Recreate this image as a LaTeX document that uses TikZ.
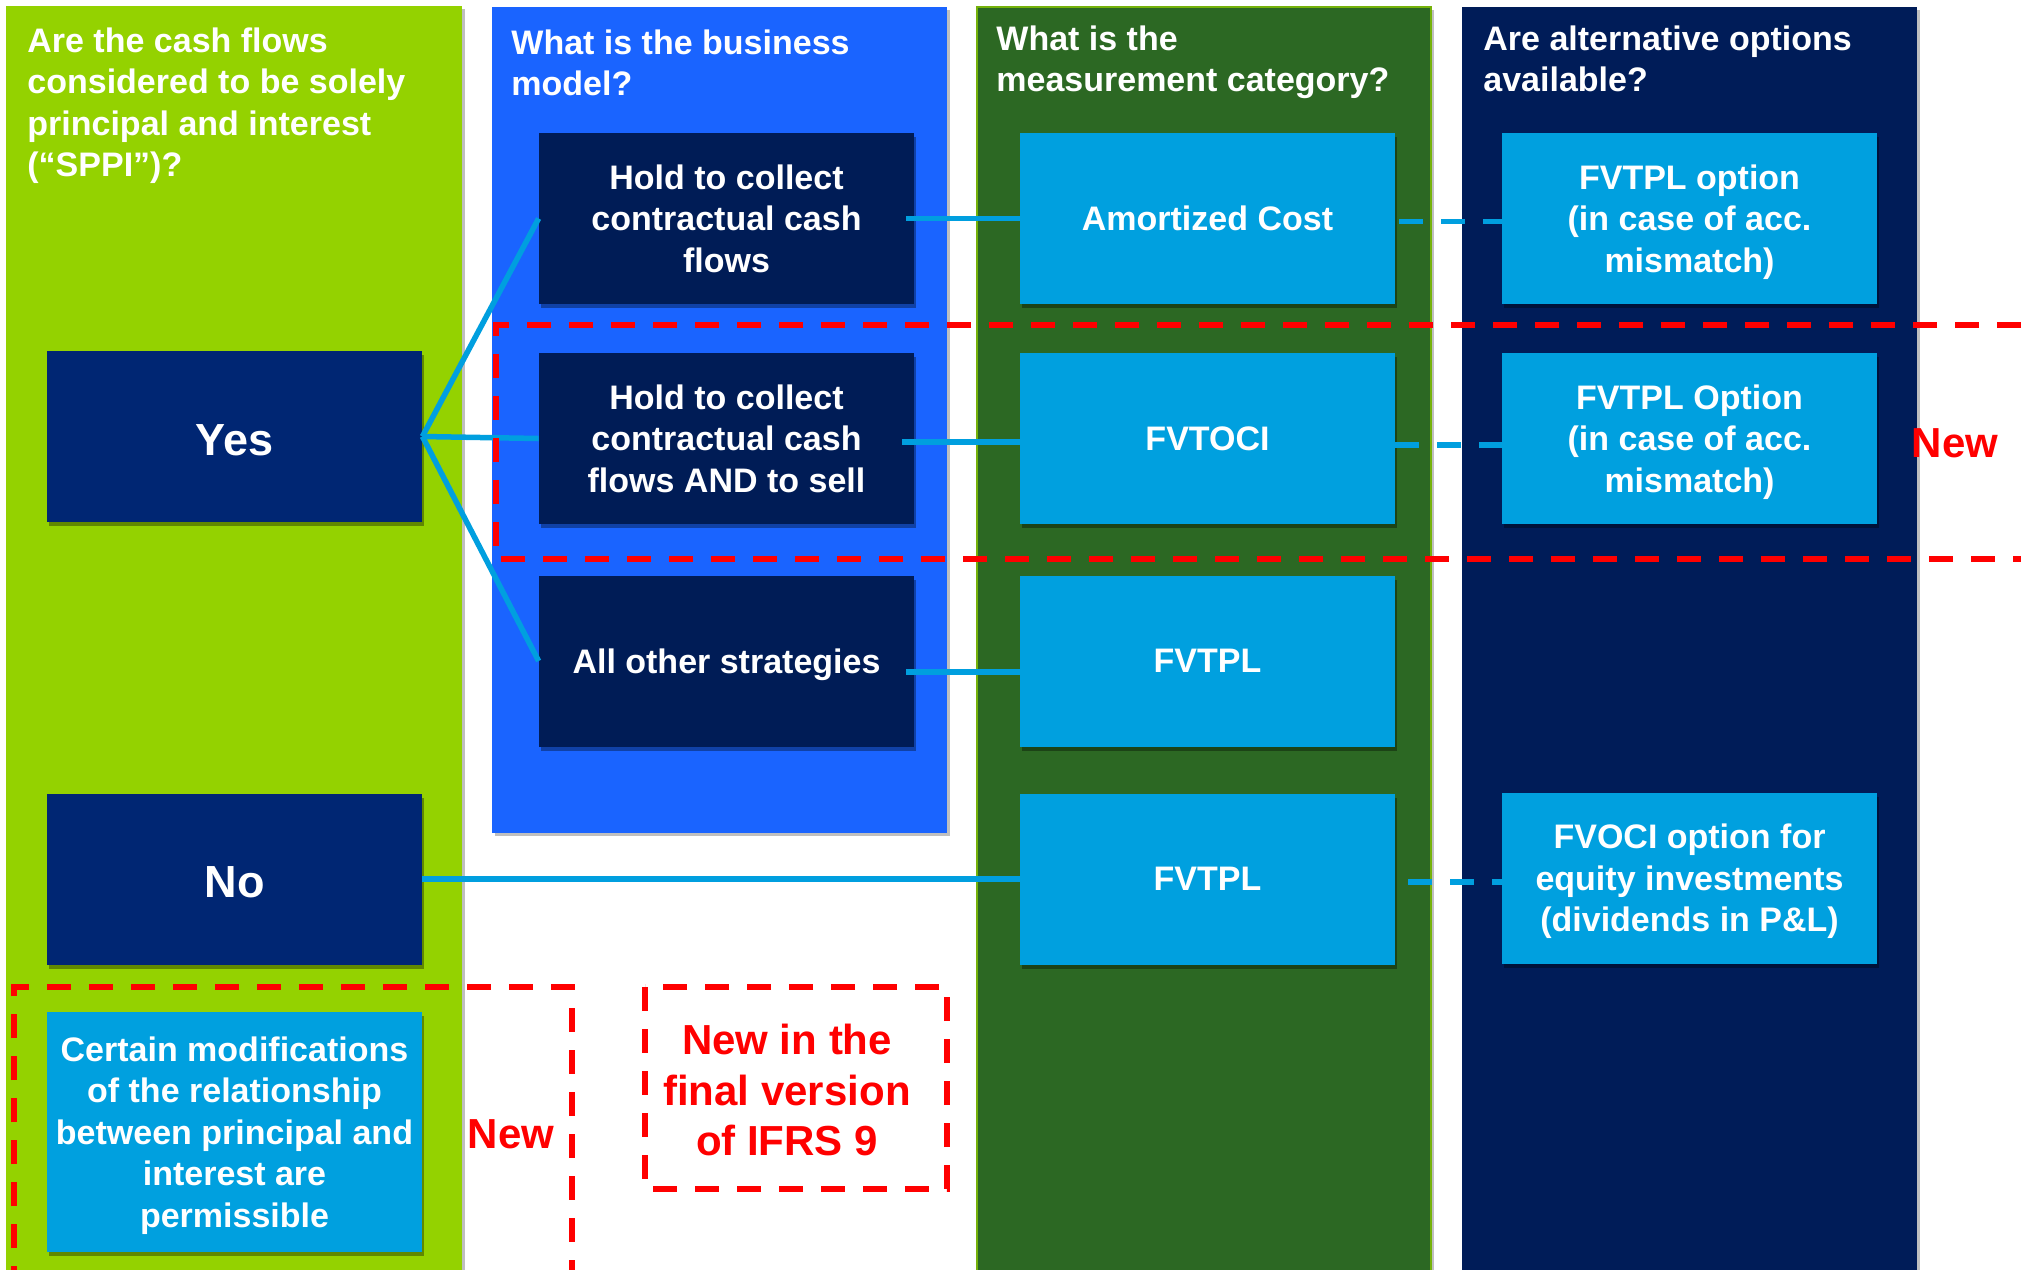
\documentclass[tikz,border=0pt]{standalone}
\usepackage{fontspec}
\setmainfont{Liberation Sans}
\usetikzlibrary{shadows}
\definecolor{lgreen}{HTML}{94D200}
\definecolor{bblue}{HTML}{1A64FF}
\definecolor{dgreen}{HTML}{2C6823}
\definecolor{navycol}{HTML}{001C58}
\definecolor{navybox}{HTML}{001C56}
\definecolor{yesbox}{HTML}{002673}
\definecolor{lblue}{HTML}{00A0DF}
\definecolor{lineblue}{HTML}{009FDF}
\begin{document}
\begin{tikzpicture}[x=0.5pt,y=-0.5pt,
  shad/.style={drop shadow={shadow xshift=1pt,shadow yshift=-2pt,opacity=0.35,fill=black}},
  colshad/.style={drop shadow={shadow xshift=1.5pt,shadow yshift=-1.5pt,opacity=0.25,fill=black}},
  box/.style={shad, minimum width=187.5pt, minimum height=85.5pt, inner sep=0pt, align=center,
    text=white, font=\bfseries\fontsize{17}{20.8}\selectfont, text depth=0pt},
  darkbox/.style={box, fill=navybox},
  yesnobox/.style={box, fill=yesbox, font=\bfseries\fontsize{22.5}{26}\selectfont,
    text height=18.5pt},
  lightbox/.style={box, fill=lblue},
  coltitle/.style={anchor=north west, inner sep=0pt, align=left, text=white,
    font=\bfseries\fontsize{17}{20.75}\selectfont},
  conn/.style={draw=lineblue, line width=2.75pt},
  dashconn/.style={draw=lineblue, line width=2.75pt, dash pattern=on 12pt off 9pt},
  reddash/.style={draw=red, line width=2.75pt, dash pattern=on 12pt off 9pt},
  redtext/.style={text=red, inner sep=0pt, align=center, font=\bfseries\fontsize{21}{25.3}\selectfont}]
\useasboundingbox (0,0) rectangle (2021,1269);
\fill[white] (0,0) rectangle (2021,1269);
% columns
\path[fill=lgreen, colshad] (6,6) rectangle (462,1290);
\path[fill=bblue, colshad] (492,7) rectangle (947,833);
\path[fill=dgreen, draw=lgreen!70!dgreen, line width=0.75pt, colshad] (977,7) rectangle (1431,1290);
\path[fill=navycol, colshad] (1462,7) rectangle (1917,1290);
% column titles
\node[coltitle] (t1) at (27,27) {Are the cash flows\\considered to be solely\\principal and interest\\(“SPPI”)?};
\node[coltitle] (t2) at (511,29) {What is the business\\model?};
\node[coltitle] (t3) at (996,25) {What is the\\measurement category?};
\node[coltitle] (t4) at (1483,25) {Are alternative options\\available?};
% boxes
\node[yesnobox] (yes) at (234.5,436.5) {Yes};
\node[yesnobox] (no) at (234.5,879) {No};
\node[lightbox, minimum height=120pt] (cert) at (234.5,1132) {Certain modifications\\of the relationship\\between principal and\\interest are\\permissible};
\node[darkbox] (b1) at (726.5,218.5) {Hold to collect\\contractual cash\\flows};
\node[darkbox] (b2) at (726.5,438.5) {Hold to collect\\contractual cash\\flows AND to sell};
\node[darkbox] (b3) at (726.5,661) {All other strategies};
\node[lightbox] (m1) at (1207.5,218.5) {Amortized Cost};
\node[lightbox] (m2) at (1207.5,438.5) {FVTOCI};
\node[lightbox] (m3) at (1207.5,661) {FVTPL};
\node[lightbox] (m4) at (1207.5,879) {FVTPL};
\node[lightbox] (o1) at (1689.5,218.5) {FVTPL option\\(in case of acc.\\mismatch)};
\node[lightbox] (o2) at (1689.5,438.5) {FVTPL Option\\(in case of acc.\\mismatch)};
\node[lightbox] (o4) at (1689.5,878) {FVOCI option for\\equity investments\\(dividends in P\&L)};
% connectors
\draw[conn] (yes.east) -- (b1.west);
\draw[conn] (yes.east) -- (b2.west);
\draw[conn] (yes.east) -- (b3.west);
\draw[conn] ([xshift=-4pt]b1.east) -- (m1.west);
\draw[conn] ([xshift=-6pt,yshift=-1.75pt]b2.east) -- ([yshift=-1.75pt]m2.west);
\draw[conn] ([xshift=-4pt,yshift=-5.5pt]b3.east) -- ([yshift=-5.5pt]m3.west);
\draw[conn] (no.east) -- (m4.west);
\draw[dashconn, dash phase=-2pt] ([yshift=-1.5pt]m1.east) -- ([yshift=-1.5pt]o1.west);
\draw[dashconn] ([yshift=-3.25pt]m2.east) -- ([yshift=-3.25pt]o2.west);
\draw[dashconn, dash phase=14.5pt] ([yshift=-1.5pt]m4.east) -- ([yshift=-1.5pt]m4.east -| o4.west);
% red dashed regions
\draw[reddash] (2021,325) -- (496,325) -- (496,559) -- (2021,559);
\draw[reddash] (14,1290) -- (14,987) -- (572,987) -- (572,1290);
\draw[reddash] (645,987) rectangle (947,1189);
\node[redtext] (newfinal) at (787,1090) {New in the\\final version\\of IFRS 9};
\node[redtext] (newleft) at (511,1134) {New};
\node[redtext] (newright) at (1955,443) {New};
\end{tikzpicture}
\end{document}
